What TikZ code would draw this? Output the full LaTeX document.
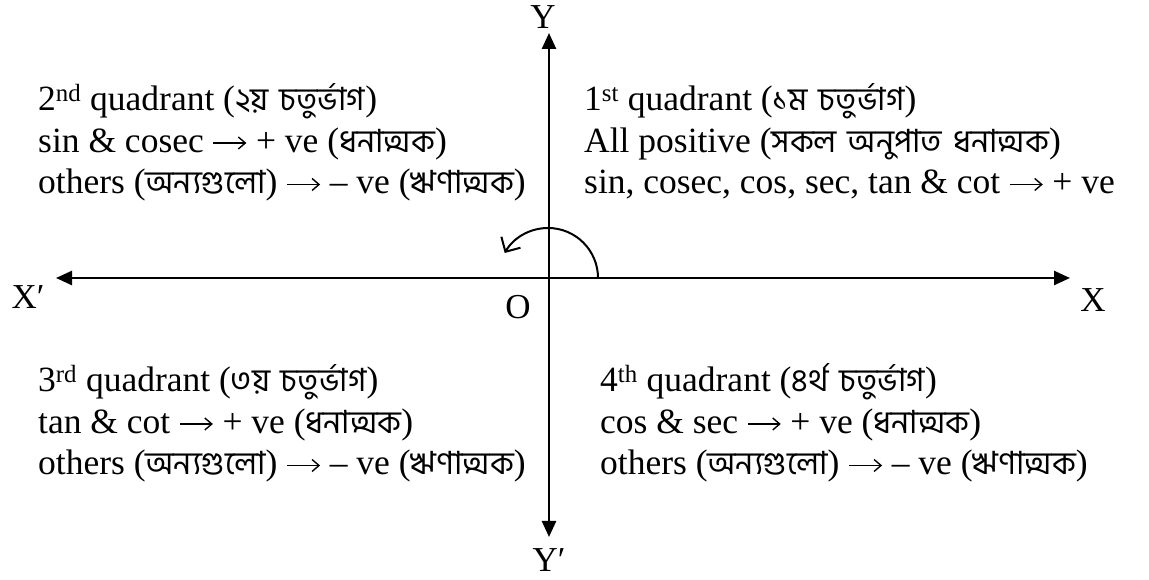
\documentclass[tikz,border=0pt]{standalone}
\usepackage{fontspec}
\setmainfont{Liberation Serif}
\newfontfamily\bn[Script=Bengali,Scale=0.9,WordSpace=1.5]{Hind Siliguri}
\usetikzlibrary{arrows.meta}
\newcommand{\ar}{\tikz[baseline=-9.5pt]\draw[line width=1.4pt,-{Straight Barb[length=7pt,width=12pt]}] (0pt,0pt) -- (33pt,0pt);}
\begin{document}
\begin{tikzpicture}[x=1pt,y=1pt,
  txt/.style={anchor=base west, inner sep=0pt, text height=24pt, text depth=8pt, font=\fontsize{35.5}{40}\selectfont},
  lbl/.style={inner sep=0pt, font=\fontsize{35}{40}\selectfont},
  axis/.style={line width=2.5pt, {Triangle[length=16pt,width=14pt]}-{Triangle[length=16pt,width=14pt]}},
  turn/.style={line width=2pt, -{Straight Barb[length=11pt,width=22pt]}}]
\useasboundingbox (0,0) rectangle (1149,580);
\coordinate (O) at (549,302);
\coordinate (xl) at (56,302);
\coordinate (xr) at (1070,302);
\coordinate (yt) at (549,547);
\coordinate (yb) at (549,43);
\coordinate (arcstart) at (598,302);
\draw[axis] (xl) -- (xr);
\draw[axis] (yb) -- (yt);
\draw[turn] (arcstart) arc[start angle=0, end angle=150, radius=50];
% axis labels
\node[lbl] (Ylab) at (543,563) {Y};
\node[lbl] (Yplab) at (549,20) {Y′};
\node[lbl] (Xplab) at (28,283) {X′};
\node[lbl] (Xlab) at (1093,280) {X};
\node[lbl] (Olab) at (518,273) {O};
% quadrant 2
\node[txt] (q2a) at (38,469) {2\textsuperscript{nd} quadrant ({\bn ২য় চতুর্ভাগ})};
\node[txt] (q2b) at (38,427.5) {sin \& cosec \ar{} + ve ({\bn ধনাত্মক})};
\node[txt] (q2c) at (38,386) {others ({\bn অন্যগুলো}) \ar{} – ve ({\bn ঋণাত্মক})};
% quadrant 1
\node[txt] (q1a) at (584,469) {1\textsuperscript{st} quadrant ({\bn ১ম চতুর্ভাগ})};
\node[txt] (q1b) at (584,427.5) {All positive ({\bn সকল অনুপাত ধনাত্মক})};
\node[txt] (q1c) at (584,386) {sin, cosec, cos, sec, tan \& cot \ar{} + ve};
% quadrant 3
\node[txt] (q3a) at (38,188) {3\textsuperscript{rd} quadrant ({\bn ৩য় চতুর্ভাগ})};
\node[txt] (q3b) at (38,146.5) {tan \& cot \ar{} + ve ({\bn ধনাত্মক})};
\node[txt] (q3c) at (38,105) {others ({\bn অন্যগুলো}) \ar{} – ve ({\bn ঋণাত্মক})};
% quadrant 4
\node[txt] (q4a) at (600,188) {4\textsuperscript{th} quadrant ({\bn ৪র্থ চতুর্ভাগ})};
\node[txt] (q4b) at (600,146.5) {cos \& sec \ar{} + ve ({\bn ধনাত্মক})};
\node[txt] (q4c) at (600,105) {others ({\bn অন্যগুলো}) \ar{} – ve ({\bn ঋণাত্মক})};
\end{tikzpicture}
\end{document}
